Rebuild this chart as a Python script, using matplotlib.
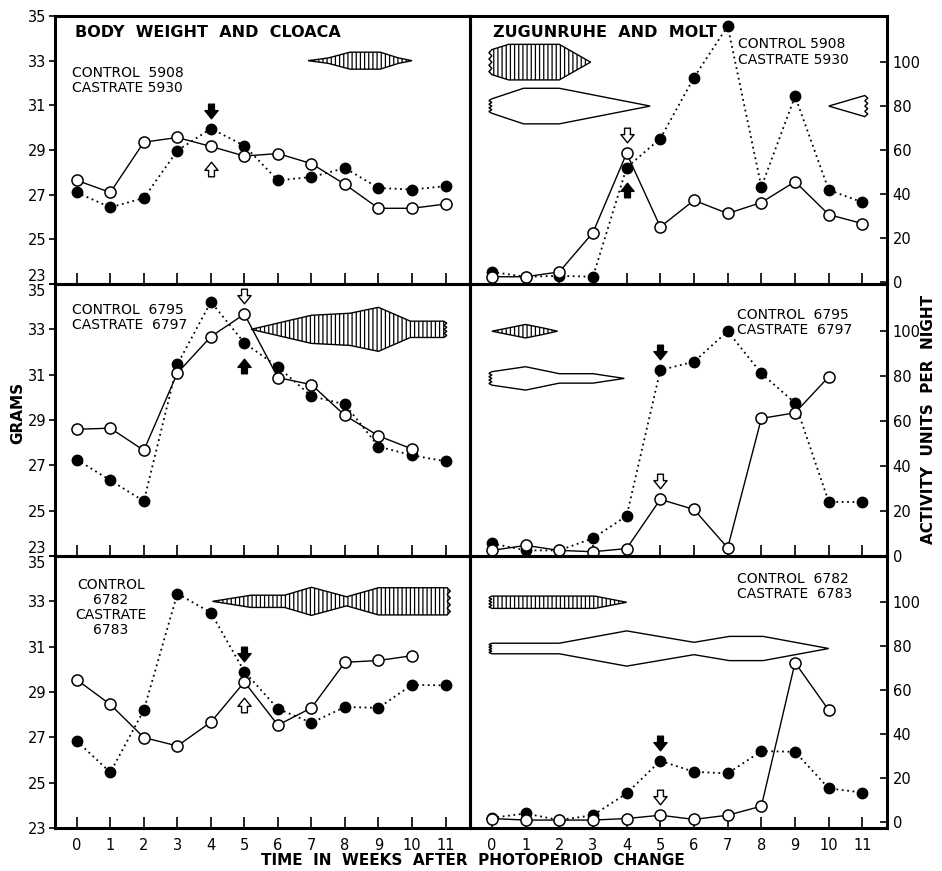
import numpy as np
import matplotlib
matplotlib.use("Agg")
import matplotlib.pyplot as plt
from matplotlib.patches import Polygon
from matplotlib.path import Path
from matplotlib.transforms import offset_copy

plt.rcParams['font.family'] = ['DejaVu Sans']
plt.rcParams['hatch.linewidth'] = 0.9

nan = np.nan
weeks = np.arange(12)
week_labels = [str(w) for w in weeks]
gram_ticks = [23, 25, 27, 29, 31, 33, 35]
activity_ticks = [0, 20, 40, 60, 80, 100]

# ---- body weight, grams -------------------------------------------------
bw_control_5908 = [27.1, 26.43, 26.85, 28.97, 29.96, 29.19, 27.64, 27.79, 28.19, 27.30, 27.23, 27.38]
bw_castrate_5930 = [27.64, 27.1, 29.35, 29.56, 29.16, 28.73, 28.84, 28.39, 27.46, 26.39, 26.39, 26.58]
bw_control_6795 = [27.25, 26.34, 25.42, 31.45, 34.21, 32.4, 31.34, 30.05, 29.69, 27.83, 27.44, 27.18]
bw_castrate_6797 = [28.59, 28.64, 27.66, 31.07, 32.68, 33.67, 30.87, 30.56, 29.2, 28.3, 27.72, nan]
bw_control_6782 = [26.84, 25.45, 28.2, 33.34, 32.5, 29.9, 28.26, 27.64, 28.34, 28.3, 29.32, 29.29]
bw_castrate_6783 = [29.54, 28.45, 26.99, 26.62, 27.67, 29.44, 27.54, 28.3, 30.31, 30.39, 30.6, nan]

# ---- nocturnal activity, units per night --------------------------------
act_control_5908 = [4.5, 2.3, 2.7, 2.3, 52, 65.2, 93, 116.4, 43.2, 84.5, 41.8, 36.2]
act_castrate_5930 = [2.3, 2.3, 4.5, 22.4, 58.5, 25, 37.1, 31.1, 36.1, 45.6, 30.6, 26.5]
act_control_6795 = [5.6, 2.5, 2.5, 7.9, 17.8, 82.7, 86.4, 100, 81.2, 68.1, 24.1, 24]
act_castrate_6797 = [2.5, 4.7, 2.5, 1.9, 3.3, 25.2, 20.7, 3.6, 61.2, 63.7, 79.7, nan]
act_control_6782 = [2.1, 4.1, 1.1, 3.3, 13.2, 28, 23, 22.3, 32.4, 32.1, 15.5, 13.6]
act_castrate_6783 = [1.8, 1.1, 1.1, 1.1, 1.8, 3.3, 1.4, 3.3, 7.4, 72.6, 51, nan]

# ---- weeks marked by arrows (control filled, castrate open) -------------
arrow_week_5908 = 4
arrow_week_6795 = 5
arrow_week_6782 = 5

# ---- cloacal protuberance bands (week, half-width in grams, level 33 g) --
cloaca_5908_wk = [6.9, 7.5, 8.15, 9.05, 9.6, 10.0]
cloaca_5908_hw = [0, 0.12, 0.38, 0.38, 0.12, 0]
cloaca_6795_wk = [5.2, 7.0, 8.15, 9.0, 9.95, 10.95]
cloaca_6795_hw = [0, 0.62, 0.71, 0.97, 0.36, 0.36]
cloaca_6782_wk = [4.05, 5.2, 6.2, 7.0, 8.05, 9.0, 11.05]
cloaca_6782_hw = [0, 0.27, 0.27, 0.62, 0.2, 0.6, 0.6]

# ---- molt bands (week, half-width in activity units) -------------------
# hatched band drawn at level 100, open band at level 80
molt_body_5908_wk = [0, 0.5, 2.0, 2.93]
molt_body_5908_hw = [5.7, 8.1, 8.1, 0]
molt_wing_5908_wk = [0, 0.94, 2.0, 4.7]
molt_wing_5908_hw = [3.3, 8.1, 8.1, 0]
molt_wing_5908b_wk = [10.0, 11.07]
molt_wing_5908b_hw = [0, 4.8]
molt_body_6795_wk = [0, 0.5, 1.0, 1.5, 1.95]
molt_body_6795_hw = [0, 1.5, 3.0, 1.5, 0]
molt_wing_6795_wk = [0, 1.0, 2.0, 3.0, 3.93]
molt_wing_6795_hw = [3.0, 5.2, 2.1, 2.1, 0]
molt_body_6782_wk = [0, 3.05, 4.0]
molt_body_6782_hw = [2.8, 2.8, 0]
molt_wing_6782_wk = [0, 2.0, 4.0, 6.0, 7.05, 8.05, 10.0]
molt_wing_6782_hw = [2.4, 2.4, 8.0, 2.8, 5.5, 5.5, 0]


def zigzag(x, y_from, y_to, amp, n=4):
    ys = np.linspace(y_from, y_to, 2 * n + 1)
    xs = x + amp * (np.arange(2 * n + 1) % 2)
    return list(zip(xs, ys))


def band(ax, wk, hw, level, hatched, zig=None, amp=0.09):
    wk = np.asarray(wk, float)
    hw = np.asarray(hw, float)
    upper = list(zip(wk, level + hw))
    lower = list(zip(wk[::-1], level - hw[::-1]))
    verts = list(upper)
    if zig == 'right' and hw[-1] > 0:
        verts += zigzag(wk[-1], level + hw[-1], level - hw[-1], amp)[1:-1]
    verts += lower
    if zig == 'left' and hw[0] > 0:
        verts += zigzag(wk[0], level - hw[0], level + hw[0], -amp)[1:-1]
    poly = Polygon(verts, closed=True, facecolor='white', edgecolor='black',
                   lw=1.0, hatch='||||' if hatched else None, zorder=2)
    ax.add_patch(poly)


# arrow marker, pointing down
_arrow_down = Path([(-0.2, 0.5), (0.2, 0.5), (0.2, 0.06), (0.45, 0.06), (0.0, -0.5),
                    (-0.45, 0.06), (-0.2, 0.06), (-0.2, 0.5)],
                   [Path.MOVETO] + [Path.LINETO] * 6 + [Path.CLOSEPOLY])
_arrow_up = Path(_arrow_down.vertices * np.array([1, -1]), _arrow_down.codes)


def arrow(ax, fig, week, value, filled, above):
    tr = offset_copy(ax.transData, fig=fig, y=13 if above else -16.5, units='points')
    ax.plot([week], [value], linestyle='none',
            marker=_arrow_down if above else _arrow_up, markersize=10.5,
            markerfacecolor='black' if filled else 'white',
            markeredgecolor='black', markeredgewidth=1.0, transform=tr, zorder=6)


def series(ax, control, castrate):
    ax.plot(weeks, control, color='black', lw=1.3, linestyle=(0, (1, 2)),
            marker='o', markersize=7.5, markerfacecolor='black',
            markeredgecolor='black', zorder=4)
    ax.plot(weeks, castrate, color='black', lw=1.0, linestyle='-',
            marker='o', markersize=8, markerfacecolor='white',
            markeredgecolor='black', markeredgewidth=1.1, zorder=5)


fig = plt.figure(figsize=(9.42, 8.71), dpi=100)
W, H = 942.0, 871.0
col_x = [(55, 470), (470, 887)]
row_y = [(16, 284), (284, 556), (556, 828)]

axes = []
for r, (yt, yb) in enumerate(row_y):
    row = []
    for c, (xl, xr) in enumerate(col_x):
        ax = fig.add_axes([xl / W, 1 - yb / H, (xr - xl) / W, (yb - yt) / H])
        ax.set_xlim(-0.65, 11.73)
        ax.set_xticks(weeks)
        ax.tick_params(axis='x', direction='in', length=8, width=1.2, pad=7,
                       labelsize=10.5, labelbottom=(r == 2))
        if r == 2:
            ax.set_xticklabels(week_labels)
        for s in ax.spines.values():
            s.set_linewidth(2.2)
        ax.set_facecolor('none')
        row.append(ax)
    axes.append(row)

# left column: grams
for r in range(3):
    ax = axes[r][0]
    ax.set_ylim(23, 35)
    ax.set_yticks(gram_ticks)
    ax.tick_params(axis='y', direction='out', length=4, width=1.2, pad=2, labelsize=10.5)
    labels = ax.get_yticklabels()
    if r < 2:
        labels[0].set_va('bottom')
    if r > 0:
        labels[-1].set_va('top')

# right column: activity
act_limits = [(-1, 121), (0, 121), (-2.5, 121)]
for r in range(3):
    ax = axes[r][1]
    ax.set_ylim(*act_limits[r])
    ax.set_yticks(activity_ticks)
    ax.yaxis.tick_right()
    ax.tick_params(axis='y', direction='in', length=5, width=1.2, pad=4, labelsize=10.5,
                   left=False, labelleft=False, right=True, labelright=True)

legend_kw = dict(fontsize=10, va='top', linespacing=1.1, zorder=7)

# ---- row 1: 5908 / 5930 ----
ax = axes[0][0]
series(ax, bw_control_5908, bw_castrate_5930)
band(ax, cloaca_5908_wk, cloaca_5908_hw, 33, True)
w = arrow_week_5908
arrow(ax, fig, w, bw_control_5908[w], True, True)
arrow(ax, fig, w, bw_castrate_5930[w], False, False)
ax.text(0.048, 0.938, 'BODY  WEIGHT  AND  CLOACA', transform=ax.transAxes,
        fontsize=11.5, fontweight='bold', va='center', ha='left')
ax.text(0.041, 0.815, 'CONTROL  5908\nCASTRATE 5930', transform=ax.transAxes,
        ha='left', **legend_kw)

ax = axes[0][1]
band(ax, molt_body_5908_wk, molt_body_5908_hw, 100, True, zig='left')
band(ax, molt_wing_5908_wk, molt_wing_5908_hw, 80, False, zig='left')
band(ax, molt_wing_5908b_wk, molt_wing_5908b_hw, 80, False, zig='right')
series(ax, act_control_5908, act_castrate_5930)
arrow(ax, fig, w, act_castrate_5930[w], False, True)
arrow(ax, fig, w, act_control_5908[w], True, False)
ax.text(0.055, 0.938, 'ZUGUNRUHE  AND  MOLT', transform=ax.transAxes,
        fontsize=11.5, fontweight='bold', va='center', ha='left')
ax.text(0.643, 0.92, 'CONTROL 5908\nCASTRATE 5930', transform=ax.transAxes,
        ha='left', **legend_kw)

# ---- row 2: 6795 / 6797 ----
ax = axes[1][0]
series(ax, bw_control_6795, bw_castrate_6797)
band(ax, cloaca_6795_wk, cloaca_6795_hw, 33, True, zig='right')
w = arrow_week_6795
arrow(ax, fig, w, bw_castrate_6797[w], False, True)
arrow(ax, fig, w, bw_control_6795[w], True, False)
ax.text(0.041, 0.93, 'CONTROL  6795\nCASTRATE  6797', transform=ax.transAxes,
        ha='left', **legend_kw)

ax = axes[1][1]
band(ax, molt_body_6795_wk, molt_body_6795_hw, 100, True)
band(ax, molt_wing_6795_wk, molt_wing_6795_hw, 79, False, zig='left')
series(ax, act_control_6795, act_castrate_6797)
arrow(ax, fig, w, act_control_6795[w], True, True)
arrow(ax, fig, w, act_castrate_6797[w], False, True)
ax.text(0.640, 0.912, 'CONTROL  6795\nCASTRATE  6797', transform=ax.transAxes,
        ha='left', **legend_kw)

# ---- row 3: 6782 / 6783 ----
ax = axes[2][0]
series(ax, bw_control_6782, bw_castrate_6783)
band(ax, cloaca_6782_wk, cloaca_6782_hw, 33, True, zig='right')
w = arrow_week_6782
arrow(ax, fig, w, bw_control_6782[w], True, True)
arrow(ax, fig, w, bw_castrate_6783[w], False, False)
ax.text(0.135, 0.92, 'CONTROL\n6782\nCASTRATE\n6783', transform=ax.transAxes,
        ha='center', **legend_kw)

ax = axes[2][1]
band(ax, molt_body_6782_wk, molt_body_6782_hw, 100, True, zig='left')
band(ax, molt_wing_6782_wk, molt_wing_6782_hw, 79, False, zig='left')
series(ax, act_control_6782, act_castrate_6783)
arrow(ax, fig, w, act_control_6782[w], True, True)
arrow(ax, fig, w, act_castrate_6783[w], False, True)
ax.text(0.640, 0.94, 'CONTROL  6782\nCASTRATE  6783', transform=ax.transAxes,
        ha='left', **legend_kw)

fig.text(0.019, 0.526, 'GRAMS', rotation=90, fontsize=11, fontweight='bold',
         ha='center', va='center')
fig.text(0.986, 0.519, 'ACTIVITY  UNITS  PER  NIGHT', rotation=90, fontsize=11,
         fontweight='bold', ha='center', va='center')
fig.text(0.502, 0.0126, 'TIME  IN  WEEKS  AFTER  PHOTOPERIOD  CHANGE', fontsize=11,
         fontweight='bold', ha='center', va='center')

fig.savefig('out.png', dpi=100)
